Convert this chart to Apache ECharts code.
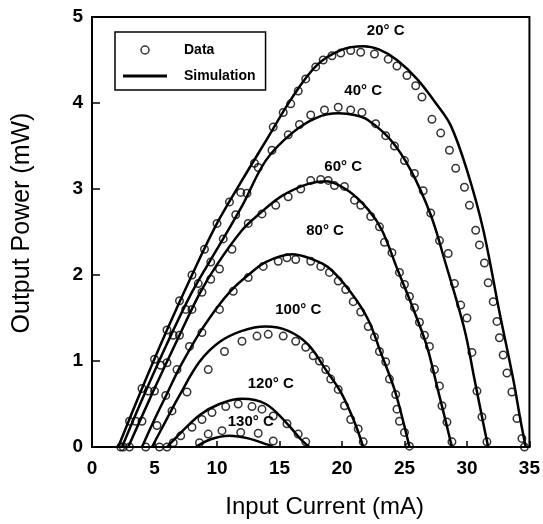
<!DOCTYPE html>
<html>
<head>
<meta charset="utf-8">
<script src="https://cdn.jsdelivr.net/npm/echarts@6/dist/echarts.min.js"></script>
<style>
  html, body { margin: 0; padding: 0; background: #fff; }
  #chart { width: 543px; height: 524px; }
</style>
</head>
<body>
<div id="chart"></div>
<script>
"use strict";
// temperatures, one curve + one set of measured points each
var temps = ['20° C', '40° C', '60° C', '80° C', '100° C', '120° C', '130° C'];
var xTicks = [0, 5, 10, 15, 20, 25, 30, 35];
var yTicks = [0, 1, 2, 3, 4, 5];

// simulation curves [current mA, power mW]
var sim20 = [[2.1,0],[4,0.68],[6,1.36],[8,2.0],[10,2.6],[12,3.1],[14,3.58],[16,4.06],[18,4.44],[20,4.62],[21.7,4.66],[23,4.62],[24.4,4.5],[26,4.28],[27.5,4.0],[28.7,3.74],[30,3.22],[31.3,2.53],[32.6,1.57],[33.7,0.79],[34.3,0.3],[34.7,0]];
var sim40 = [[2.4,0],[4,0.55],[6,1.2],[8,1.8],[10,2.3],[12,2.8],[13.9,3.33],[16,3.65],[18,3.83],[19.7,3.88],[21,3.86],[22.1,3.8],[23.9,3.57],[25.5,3.22],[27.1,2.7],[28.2,2.18],[29.8,1.37],[30.6,0.79],[31.4,0.21],[31.7,0]];
var sim60 = [[2.9,0],[5,0.68],[7,1.3],[8.6,1.78],[10,2.12],[12,2.52],[13.3,2.7],[15.2,2.92],[17.3,3.06],[18.7,3.09],[20.5,2.98],[22.1,2.76],[23.2,2.52],[24.4,2.08],[25.8,1.57],[26.8,1.17],[27.6,0.71],[28.4,0.24],[28.8,0]];
var sim80 = [[4,0],[5,0.32],[6,0.62],[7,0.92],[8,1.18],[8.8,1.37],[10,1.62],[11.2,1.83],[12.5,2.0],[13.9,2.15],[16,2.24],[17.3,2.2],[18.9,2.09],[20.7,1.8],[22.1,1.48],[23.1,1.1],[24.2,0.67],[25,0.24],[25.4,0]];
var sim100 = [[4.8,0],[6,0.33],[7,0.6],[8.6,0.99],[10.2,1.22],[12,1.35],[13.9,1.4],[15.7,1.35],[17.3,1.19],[18.7,0.9],[19.9,0.64],[21,0.29],[21.7,0]];
var sim120 = [[6,0],[7,0.15],[8.6,0.37],[10.2,0.5],[12,0.56],[13.9,0.5],[15.5,0.29],[16.7,0.09],[17.4,0]];
var sim130 = [[8.3,0],[9.5,0.09],[11,0.13],[12.5,0.1],[14,0.03],[14.5,0]];

// measured data
var data20 = [[2.3,0],[3,0.3],[4,0.68],[5,1.02],[6,1.36],[7,1.7],[8,2.0],[9,2.3],[10,2.6],[11,2.85],[11.9,2.96],[13,3.3],[14.5,3.72],[15.3,3.89],[15.9,3.99],[16.5,4.14],[17.1,4.28],[17.9,4.42],[18.5,4.5],[19.2,4.55],[19.9,4.58],[20.7,4.61],[21.5,4.59],[22.6,4.57],[23.7,4.51],[24.4,4.43],[25.2,4.32],[25.9,4.2],[26.4,4.07],[27.2,3.81],[27.9,3.65],[28.6,3.45],[29.1,3.24],[29.8,3.02],[30.2,2.81],[30.7,2.52],[31.0,2.35],[31.4,2.14],[31.7,1.91],[32.1,1.69],[32.4,1.46],[32.6,1.27],[32.9,1.07],[33.2,0.86],[33.6,0.64],[34.0,0.33],[34.4,0.1],[34.6,0]];
var data40 = [[2.5,0],[3.5,0.3],[4.5,0.65],[5.5,0.95],[6.5,1.3],[7.5,1.6],[8.5,1.9],[9.5,2.15],[10.5,2.42],[11.5,2.7],[12.4,2.95],[13.3,3.25],[14.4,3.45],[15.7,3.63],[16.6,3.75],[17.5,3.86],[18.6,3.92],[19.7,3.95],[20.7,3.92],[21.6,3.89],[22.7,3.76],[23.5,3.62],[24.2,3.5],[25.0,3.33],[25.8,3.18],[26.5,2.98],[27.1,2.72],[27.8,2.4],[28.5,2.25],[29.0,1.9],[29.5,1.65],[30.0,1.5],[30.4,1.1],[30.8,0.65],[31.2,0.35],[31.6,0.06]];
var data60 = [[3,0],[4,0.3],[5,0.65],[6,0.98],[7,1.3],[8,1.6],[8.8,1.8],[9.5,1.95],[10.2,2.07],[11.2,2.3],[12.5,2.6],[13.6,2.71],[14.7,2.81],[15.7,2.91],[16.7,3.0],[17.5,3.1],[18.3,3.11],[18.9,3.1],[19.4,3.04],[20.2,3.03],[21.0,2.87],[21.5,2.81],[22.3,2.68],[23.0,2.56],[23.4,2.38],[24.0,2.26],[24.6,2.03],[25.0,1.89],[25.4,1.75],[25.8,1.62],[26.2,1.45],[26.6,1.3],[27.0,1.17],[27.4,0.9],[27.8,0.71],[28.0,0.48],[28.4,0.29],[28.8,0.06]];
var data80 = [[4.3,0],[5.2,0.25],[5.9,0.6],[6.8,0.9],[7.8,1.17],[8.8,1.33],[10.2,1.6],[11.3,1.81],[12.5,1.97],[13.7,2.1],[14.9,2.16],[15.6,2.2],[16.3,2.18],[17.5,2.16],[18.3,2.1],[19.0,2.03],[19.7,1.93],[20.3,1.83],[20.9,1.69],[21.5,1.57],[22.1,1.4],[22.6,1.28],[23.0,1.11],[23.5,0.99],[23.8,0.79],[24.3,0.61],[24.4,0.44],[24.6,0.3],[25.0,0.17],[25.4,0.01]];
var data100 = [[5.4,0],[6.4,0.42],[7.6,0.64],[9.3,0.9],[10.6,1.11],[12.0,1.23],[13.2,1.29],[14.1,1.31],[15.3,1.29],[16.3,1.23],[17.1,1.16],[17.7,1.06],[18.2,1.0],[18.7,0.9],[19.1,0.79],[19.7,0.67],[20.2,0.48],[20.7,0.32],[21.3,0.21],[21.7,0.06]];
var data120 = [[6.0,0],[6.5,0.05],[7.1,0.13],[8.0,0.23],[8.8,0.32],[9.6,0.4],[10.7,0.47],[11.7,0.5],[12.8,0.47],[13.6,0.44],[14.5,0.36],[15.6,0.27],[16.5,0.15],[17.1,0.06]];
var data130 = [[8.6,0.05],[9.3,0.15],[10.4,0.19],[11.9,0.17],[13.3,0.16],[14.5,0.07]];

var sims = [sim20, sim40, sim60, sim80, sim100, sim120, sim130];
var datas = [data20, data40, data60, data80, data100, data120, data130];
// where each temperature label sits (data units)
var labelAt = [[23.5,4.84],[21.7,4.14],[20.1,3.26],[18.65,2.51],[16.5,1.6],[14.3,0.73],[12.7,0.29]];

var font = "'Liberation Sans', Arial, Helvetica, sans-serif";

var series = [];
sims.forEach(function(s, i){
  series.push({
    name: 'Simulation',
    type: 'line',
    data: s,
    smooth: 0.35,
    showSymbol: false,
    symbol: 'none',
    lineStyle: { color: '#000', width: 2.5 },
    itemStyle: { color: '#000' },
    z: 3,
    markPoint: {
      symbol: 'circle',
      symbolSize: 0,
      silent: true,
      data: [{ coord: labelAt[i], value: temps[i] }],
      label: {
        show: true,
        formatter: temps[i],
        color: '#000',
        fontFamily: font,
        fontWeight: 'bold',
        fontSize: 15
      }
    }
  });
});
datas.forEach(function(d){
  series.push({
    name: 'Data',
    type: 'scatter',
    data: d,
    symbol: 'circle',
    symbolSize: 7.5,
    itemStyle: { color: 'rgba(255,255,255,0)', borderColor: '#000', borderWidth: 1.5 },
    z: 2
  });
});

var chart = echarts.init(document.getElementById('chart'));
chart.setOption({
  backgroundColor: '#fff',
  animation: false,
  grid: { left: 92, right: 10, top: 17, bottom: 76, show: true, borderColor: '#000', borderWidth: 2, backgroundColor: 'transparent' },
  legend: {
    data: [
      { name: 'Data', icon: 'circle', itemStyle: { color: 'rgba(255,255,255,0)', borderColor: '#000', borderWidth: 1.5 } },
      { name: 'Simulation', icon: 'path://M0,0L44,0L44,3L0,3Z', itemStyle: { color: '#000', borderWidth: 0 } }
    ],
    orient: 'vertical',
    left: 115, top: 32,
    padding: [11, 10, 7, 8],
    itemGap: 12,
    itemWidth: 44, itemHeight: 8,
    borderColor: '#000', borderWidth: 1.5,
    backgroundColor: '#fff',
    textStyle: { color: '#000', fontFamily: font, fontWeight: 'bold', fontSize: 14, padding: [0, 0, 0, 12] }
  },
  xAxis: {
    type: 'value', min: 0, max: 35, interval: 5,
    name: 'Input Current (mA)', nameLocation: 'middle', nameGap: 48,
    nameTextStyle: { color: '#000', fontFamily: font, fontSize: 24, padding: [0, 0, 0, 28] },
    axisLine: { show: true, lineStyle: { color: '#000', width: 2 } },
    axisTick: { show: true, inside: true, length: 6, lineStyle: { color: '#000', width: 1.5 } },
    axisLabel: { color: '#000', fontFamily: font, fontWeight: 'bold', fontSize: 19, margin: 12,
      formatter: function(v){ return xTicks.indexOf(v) >= 0 ? String(v) : ''; } },
    splitLine: { show: false }
  },
  yAxis: {
    type: 'value', min: 0, max: 5, interval: 1,
    name: 'Output Power (mW)', nameLocation: 'middle', nameGap: 57, nameRotate: 90,
    nameTextStyle: { color: '#000', fontFamily: font, fontSize: 25, padding: [0, 0, 0, 18] },
    axisLine: { show: true, lineStyle: { color: '#000', width: 2 } },
    axisTick: { show: true, inside: true, length: 8, lineStyle: { color: '#000', width: 1.5 } },
    axisLabel: { color: '#000', fontFamily: font, fontWeight: 'bold', fontSize: 19, margin: 9,
      formatter: function(v){ return yTicks.indexOf(v) >= 0 ? String(v) : ''; } },
    splitLine: { show: false }
  },
  series: series
});
</script>
</body>
</html>
